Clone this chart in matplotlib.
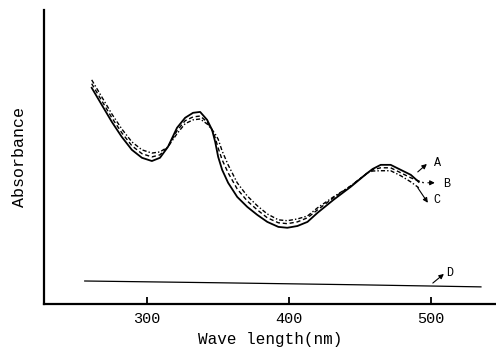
import matplotlib.pyplot as plt

# wavelengths (nm)
wl = [261.1, 268.2, 275.3, 282.3, 289.4, 296.5, 303.5, 309.2, 314.8, 321.2, 326.9,
      332.5, 337.5, 342.4, 345.9, 348.1, 350.2, 353.0, 357.2, 363.6, 370.7, 377.7,
      384.8, 392.6, 398.9, 406.0, 413.1, 420.2, 431.4, 443.5, 455.5, 459.0, 464.7,
      471.7, 478.8, 485.9, 491.5]
abs_a = [0.735, 0.677, 0.619, 0.568, 0.524, 0.497, 0.486, 0.497, 0.534, 0.599, 0.633,
         0.650, 0.653, 0.626, 0.592, 0.551, 0.500, 0.456, 0.412, 0.364, 0.330, 0.303,
         0.279, 0.262, 0.259, 0.265, 0.279, 0.310, 0.354, 0.398, 0.446, 0.459, 0.473,
         0.473, 0.456, 0.439, 0.415]
abs_b = [0.749, 0.691, 0.633, 0.582, 0.538, 0.511, 0.500, 0.507, 0.534, 0.589, 0.623,
         0.636, 0.639, 0.619, 0.592, 0.565, 0.530, 0.490, 0.446, 0.391, 0.350, 0.320,
         0.293, 0.276, 0.273, 0.279, 0.293, 0.320, 0.361, 0.401, 0.446, 0.456, 0.463,
         0.463, 0.446, 0.429, 0.418]
abs_c = [0.762, 0.704, 0.646, 0.595, 0.551, 0.524, 0.513, 0.517, 0.534, 0.579, 0.613,
         0.626, 0.629, 0.612, 0.592, 0.578, 0.560, 0.520, 0.473, 0.412, 0.367, 0.334,
         0.306, 0.286, 0.283, 0.289, 0.299, 0.327, 0.364, 0.401, 0.446, 0.452, 0.453,
         0.453, 0.436, 0.415, 0.395]
wl_b_end = [491.5, 495.0]
abs_b_end = [0.418, 0.412]

wl_d = [256.2, 350.0, 450.0, 535.3]
abs_d = [0.078, 0.072, 0.065, 0.058]

xticks = [300, 400, 500]

font = 'Liberation Mono'

fig = plt.figure(figsize=(4.96, 3.53), dpi=100)
ax = fig.add_axes([0.0887, 0.139, 0.911, 0.833])

ax.plot(wl, abs_a, color='black', lw=1.3, ls='-')
ax.plot(wl + wl_b_end[1:], abs_b + abs_b_end[1:], color='black', lw=1.0,
        ls=(0, (3, 2)))
ax.plot(wl, abs_c, color='black', lw=1.0, ls=(0, (3, 1.5, 1, 1.5)))
ax.plot(wl_d, abs_d, color='black', lw=0.9)

# curve labels with small arrows
arrow = dict(arrowstyle='-|>', color='black', lw=0.8, mutation_scale=7,
             shrinkA=0, shrinkB=0)
lbl = dict(fontsize=8.5, family=font, va='center', ha='left')
ax.annotate('', xy=(497.2, 0.476), xytext=(490.8, 0.449), arrowprops=arrow)
ax.text(502, 0.480, 'A', **lbl)
ax.annotate('', xy=(502.8, 0.412), xytext=(497.9, 0.412), arrowprops=arrow)
ax.text(508.5, 0.408, 'B', **lbl)
ax.annotate('', xy=(497.9, 0.344), xytext=(490.8, 0.395), arrowprops=arrow)
ax.text(502, 0.352, 'C', **lbl)
ax.annotate('', xy=(509.2, 0.102), xytext=(501.4, 0.071), arrowprops=arrow)
ax.text(510.5, 0.106, 'D', **lbl)

ax.set_xlim(227.5, 545.8)
ax.set_ylim(0, 1)
ax.set_xticks(xticks)
ax.set_xticklabels([str(t) for t in xticks], family=font, fontsize=11)
ax.set_yticks([])
ax.tick_params(axis='x', direction='in', length=5, width=1.3, pad=6)

for s in ['top', 'right']:
    ax.spines[s].set_visible(False)
for s in ['left', 'bottom']:
    ax.spines[s].set_linewidth(1.6)

ax.set_xlabel('Wave length(nm)', family=font, fontsize=11.5, labelpad=4)
ax.set_ylabel('Absorbance', family=font, fontsize=12, labelpad=12)

fig.savefig('out.png', dpi=100)
